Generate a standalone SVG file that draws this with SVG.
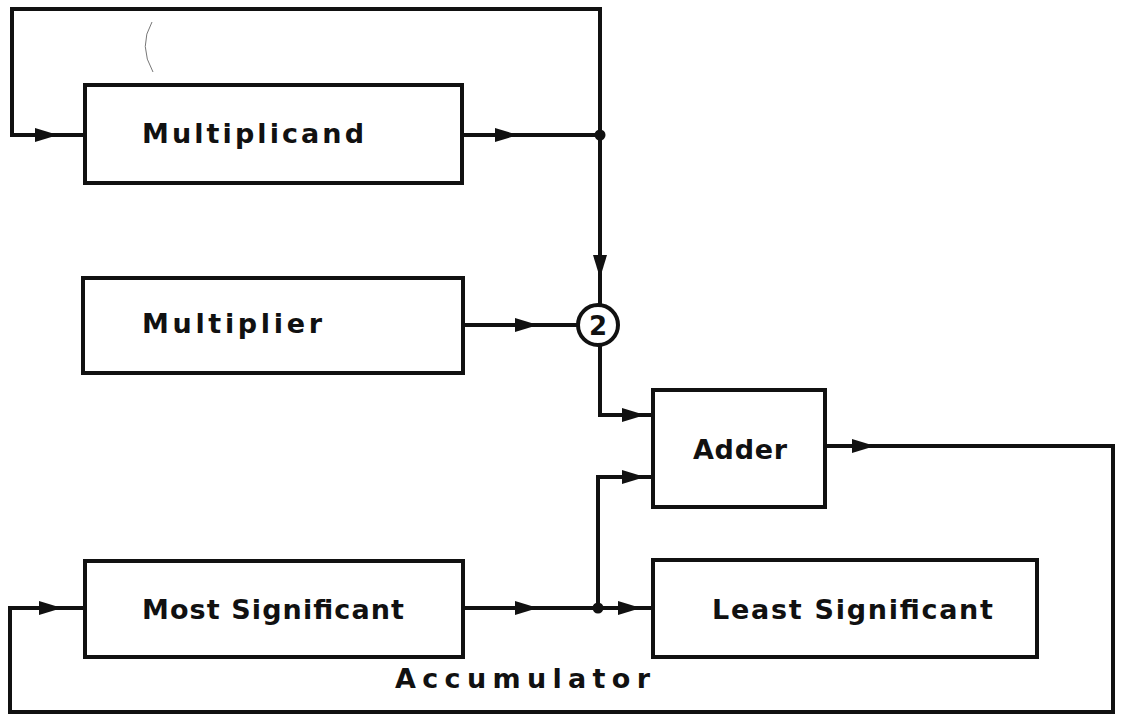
<svg xmlns="http://www.w3.org/2000/svg" width="1121" height="715" viewBox="0 0 1121 715">
<style>
.box{fill:none;stroke:#111;stroke-width:4}
.ln{fill:none;stroke:#111;stroke-width:4;stroke-linejoin:miter}
.lbl{font-family:"DejaVu Sans",sans-serif;font-size:27px;font-weight:bold;fill:#111}
.dot{fill:#111}
</style>
<defs>
<path id="arr" d="M0 0 L-23 -7 L-23 7 Z" fill="#111"/>
</defs>
<rect width="1121" height="715" fill="#fff"/>
<path d="M152 22 Q138 46 153 72" fill="none" stroke="#777" stroke-width="1"/>
<g id="connectors">
<path class="ln" d="M600 135 V9 H12 V135 H85"/>
<path class="ln" d="M462 135 H600"/>
<path class="ln" d="M600 135 V305"/>
<path class="ln" d="M463 325 H578"/>
<path class="ln" d="M600 345 V415 H653"/>
<path class="ln" d="M825 446 H1113 V712 H10 V608 H85"/>
<path class="ln" d="M463 608 H653"/>
<path class="ln" d="M598 608 V477 H653"/>
<circle class="dot" cx="600" cy="135" r="5.5"/>
<circle class="dot" cx="598" cy="608" r="5.5"/>
<use href="#arr" transform="translate(58,135)"/>
<use href="#arr" transform="translate(518,135)"/>
<use href="#arr" transform="translate(600,278) rotate(90)"/>
<use href="#arr" transform="translate(538,325)"/>
<use href="#arr" transform="translate(645,415)"/>
<use href="#arr" transform="translate(645,477)"/>
<use href="#arr" transform="translate(875,446)"/>
<use href="#arr" transform="translate(62,608)"/>
<use href="#arr" transform="translate(538,608)"/>
<use href="#arr" transform="translate(641,608)"/>
</g>
<g id="multiplicand">
<rect class="box" x="85" y="85" width="377" height="98"/>
<text class="lbl" x="142" y="143" textLength="222" lengthAdjust="spacing">Multiplicand</text>
</g>
<g id="multiplier">
<rect class="box" x="83" y="278" width="380" height="95"/>
<text class="lbl" x="142" y="333" textLength="180" lengthAdjust="spacing">Multiplier</text>
</g>
<g id="mult-node">
<circle cx="598" cy="325" r="20" fill="#fff" stroke="#111" stroke-width="4"/>
<text x="598" y="335" text-anchor="middle" font-family="DejaVu Sans,sans-serif" font-size="26" font-weight="bold" fill="#111">2</text>
</g>
<g id="adder">
<rect class="box" x="653" y="390" width="172" height="117"/>
<text class="lbl" x="693" y="459" textLength="94" lengthAdjust="spacing">Adder</text>
</g>
<g id="most-significant">
<rect class="box" x="85" y="561" width="378" height="96"/>
<text class="lbl" x="142" y="619" textLength="262" lengthAdjust="spacing">Most Significant</text>
</g>
<g id="least-significant">
<rect class="box" x="653" y="560" width="384" height="97"/>
<text class="lbl" x="712" y="619" textLength="281" lengthAdjust="spacing">Least Significant</text>
</g>
<text class="lbl" x="395" y="688" textLength="255" lengthAdjust="spacing">Accumulator</text>
</svg>
